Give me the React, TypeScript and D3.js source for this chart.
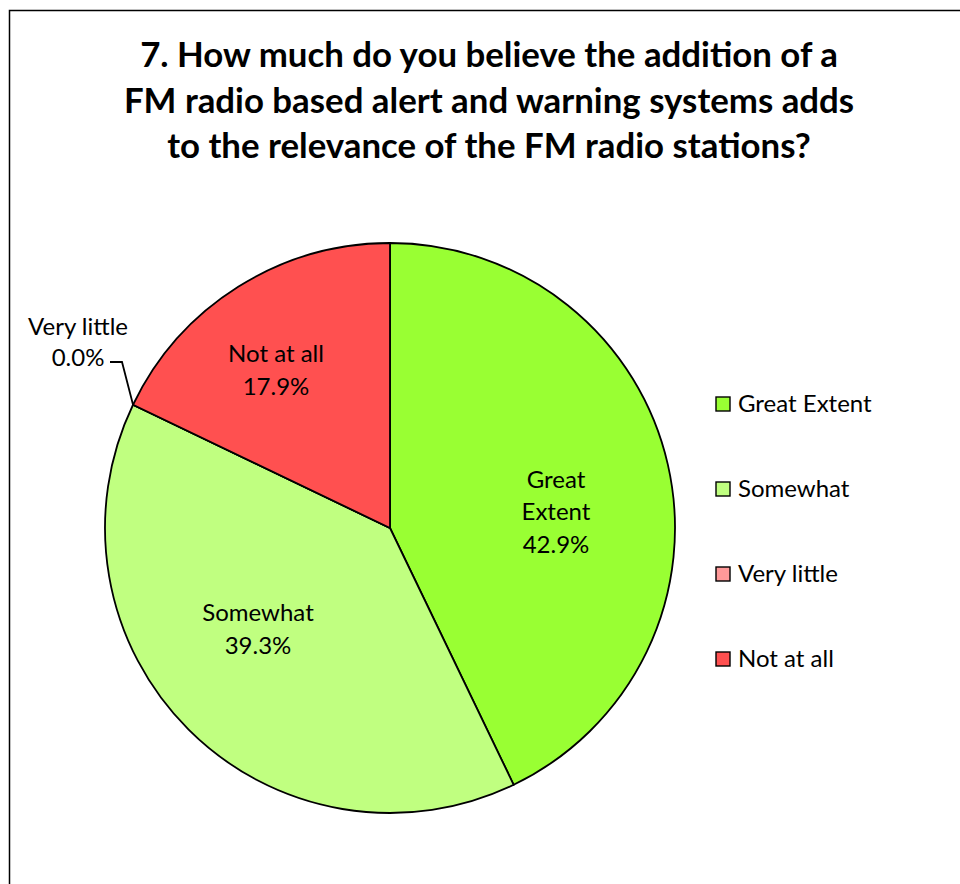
import React from "react";
import * as d3 from "d3";

const categories = ["Great Extent", "Somewhat", "Very little", "Not at all"];
const values = [42.9, 39.3, 0.0, 17.9];
const colors = ["#99FF33", "#C0FF80", "#FF9999", "#FF5050"];
const titleLines = [
  "7. How much do you believe the addition of a",
  "FM radio based alert and warning systems adds",
  "to the relevance of the FM radio stations?",
];

const W = 960;
const H = 884;
const cx = 390;
const cy = 528;
const R = 285;
const font = "Lato, 'Open Sans', sans-serif";
const lf = 24;

export default function App() {
  const pie = d3.pie<number>().value((d) => d).sort(null);
  const arcs = pie(values);
  const arcGen = d3.arc<d3.PieArcDatum<number>>().innerRadius(0).outerRadius(R);
  const fmt = (v: number) => v.toFixed(1) + "%";

  const vl = arcs[2];
  const vlx = cx + Math.sin(vl.startAngle) * R;
  const vly = cy - Math.cos(vl.startAngle) * R;

  const labelLines: string[][] = [
    ["Great", "Extent", fmt(values[0])],
    [categories[1], fmt(values[1])],
    [],
    [categories[3], fmt(values[3])],
  ];
  const labelPos = [
    [166, -16],
    [-132, 101],
    [0, 0],
    [-114, -158],
  ];

  return (
    <svg width={W} height={H} style={{ position: "absolute", left: 0, top: 0 }}>
      <rect x={0} y={0} width={W} height={H} fill="#fff" />
      <rect x={9.5} y={10.5} width={W + 20} height={H + 20} fill="none" stroke="#000" strokeWidth={1.5} />
      {titleLines.map((t, i) => (
        <text
          key={i}
          x={489}
          y={67 + i * 45.5}
          textAnchor="middle"
          fontFamily={font}
          fontWeight="bold"
          fontSize={34.8}
          fill="#000"
        >
          {t}
        </text>
      ))}
      <g transform={`translate(${cx},${cy})`}>
        {arcs.map((a, i) => (
          <path key={i} d={arcGen(a) || ""} fill={colors[i]} stroke="#000" strokeWidth={1.8} />
        ))}
        {arcs.map((a, i) => {
          const lines = labelLines[i];
          if (!lines.length) return null;
          const [x, y] = labelPos[i];
          const lh = 32.5;
          const y0 = y - ((lines.length - 1) * lh) / 2;
          return (
            <text key={i} textAnchor="middle" fontFamily={font} fontSize={lf} fill="#000">
              {lines.map((l, j) => (
                <tspan key={j} x={x} y={y0 + j * lh} dy="0.35em">
                  {l}
                </tspan>
              ))}
            </text>
          );
        })}
      </g>
      <polyline
        points={`${vlx},${vly} ${122},${362} ${110},${362}`}
        fill="none"
        stroke="#000"
        strokeWidth={1.8}
      />
      <text textAnchor="middle" fontFamily={font} fontSize={lf} fill="#000">
        <tspan x={78} y={327} dy="0.35em">{categories[2]}</tspan>
        <tspan x={78} y={358} dy="0.35em">{fmt(values[2])}</tspan>
      </text>
      {categories.map((c, i) => (
        <g key={c} transform={`translate(716,${404 + i * 85})`}>
          <rect x={0} y={-7} width={14} height={14} fill={colors[i]} stroke="#000" strokeWidth={1.4} />
          <text x={22} y={0} dy="0.35em" fontFamily={font} fontSize={lf} fill="#000">
            {c}
          </text>
        </g>
      ))}
    </svg>
  );
}
